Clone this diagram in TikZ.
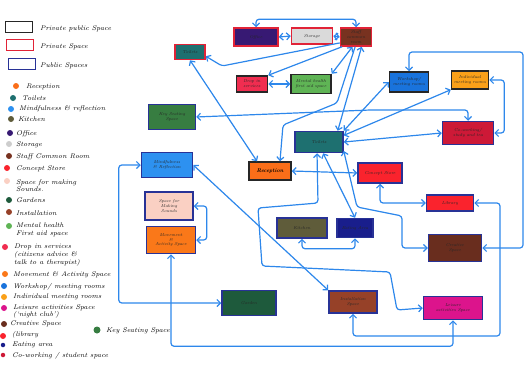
\documentclass[tikz,border=0pt]{standalone}
\usetikzlibrary{arrows.meta}
\definecolor{cArr}{RGB}{45,135,235}
\definecolor{cRedB}{RGB}{225,35,55}
\definecolor{cBlueB}{RGB}{40,50,150}
\definecolor{cTeal}{RGB}{30,112,112}
\definecolor{cPurple}{RGB}{55,25,115}
\definecolor{cGray}{RGB}{218,218,218}
\definecolor{cBrown}{RGB}{120,50,32}
\definecolor{cDrop}{RGB}{240,45,80}
\definecolor{cMental}{RGB}{95,180,85}
\definecolor{cKey}{RGB}{55,125,65}
\definecolor{cWork}{RGB}{25,115,220}
\definecolor{cIndiv}{RGB}{250,160,25}
\definecolor{cCowork}{RGB}{205,25,55}
\definecolor{cMind}{RGB}{45,145,240}
\definecolor{cRecep}{RGB}{250,110,25}
\definecolor{cConcept}{RGB}{250,35,45}
\definecolor{cSounds}{RGB}{250,208,195}
\definecolor{cMove}{RGB}{250,120,25}
\definecolor{cKitchen}{RGB}{95,92,58}
\definecolor{cEat}{RGB}{25,30,140}
\definecolor{cCreative}{RGB}{105,45,30}
\definecolor{cGarden}{RGB}{30,90,60}
\definecolor{cInstall}{RGB}{150,65,40}
\definecolor{cLeisure}{RGB}{220,20,140}
\definecolor{cLight}{RGB}{205,205,205}
\tikzset{
  box/.style={draw, line width=1.5pt, inner sep=0.5pt, align=center,
    font=\fontsize{4.3}{4.9}\selectfont\itshape, text=black!85},
  pv/.style={box, draw=cRedB},
  pp/.style={box, draw=black!85},
  pu/.style={box, draw=cBlueB},
  sz/.style 2 args={minimum width=#1pt, minimum height=#2pt},
  c2/.style={draw=cArr, line width=1.2pt, {Straight Barb[length=3.5pt,width=7pt]}-{Straight Barb[length=3.5pt,width=7pt]}, rounded corners=3pt},
  c1/.style={draw=cArr, line width=1.2pt, -{Straight Barb[length=3.5pt,width=7pt]}, rounded corners=3pt},
  ldot/.style={circle, inner sep=0pt, minimum size=6pt},
  ltext/.style={anchor=west, inner sep=0pt, align=left,
    font=\fontsize{6.8}{7.6}\selectfont\itshape},
  lbox/.style={draw, line width=1.1pt, minimum width=27pt, minimum height=11pt, inner sep=0pt}
}
\begin{document}
\begin{tikzpicture}[x=1pt,y=-1pt]
\useasboundingbox (0,0) rectangle (531,367);

% ---------- legend ----------
\node[lbox, draw=black!85] (lbA) at (19,27) {};
\node[ltext] (ltA) at (40,29) {Private public Space};
\node[lbox, draw=cRedB] (lbB) at (20,45) {};
\node[ltext] (ltB) at (40,47) {Private Space};
\node[lbox, draw=cBlueB] (lbC) at (22,64) {};
\node[ltext] (ltC) at (40,66) {Public Spaces};

\node[ldot, fill=cRecep] (d1) at (16,86) {};
\node[ltext] (e1) at (26,87) {Reception};
\node[ldot, fill=cTeal] (d2) at (13,98) {};
\node[ltext] (e2) at (22,98) {Toilets};
\node[ldot, fill=cMind] (d3) at (11,109) {};
\node[ltext] (e3) at (19,109) {Mindfulness \& reflection};
\node[ldot, fill=cKitchen] (d4) at (11,119) {};
\node[ltext] (e4) at (18,119) {Kitchen};
\node[ldot, fill=cPurple] (d5) at (10,133) {};
\node[ltext] (e5) at (16,134) {Office};
\node[ldot, fill=cLight] (d6) at (9,144) {};
\node[ltext] (e6) at (16,145) {Storage};
\node[ldot, fill=cBrown] (d7) at (9,156) {};
\node[ltext] (e7) at (16,157) {Staff Common Room};
\node[ldot, fill=cConcept] (d8) at (7,168) {};
\node[ltext] (e8) at (16,169) {Concept Store};
\node[ldot, fill=cSounds] (d9) at (7,181) {};
\node[ltext] (e9) at (16,185.5) {Space for making\\Sounds.};
\node[ldot, fill=cGarden] (d10) at (9,200) {};
\node[ltext] (e10) at (16,200) {Gardens};
\node[ldot, fill=cInstall] (d11) at (9,212) {};
\node[ltext] (e11) at (16,213) {Installation};
\node[ldot, fill=cMental] (d12) at (9,226) {};
\node[ltext] (e12) at (16,230) {Mental health\\First aid space};
\node[ldot, fill=cDrop] (d13) at (5,247) {};
\node[ltext] (e13) at (14,255) {Drop in services\\(citizens advice \&\\talk to a therapist)};
\node[ldot, fill=cMove] (d14) at (5,274) {};
\node[ltext] (e14) at (13,275) {Movement \& Activity Space};
\node[ldot, fill=cWork] (d15) at (4,286) {};
\node[ltext] (e15) at (13,287) {Workshop/ meeting rooms};
\node[ldot, fill=cIndiv] (d16) at (4,297) {};
\node[ltext] (e16) at (13,297) {Individual meeting rooms};
\node[ldot, fill=cLeisure] (d17) at (4,308) {};
\node[ltext] (e17) at (13,311.5) {Leisure activities Space\\(`night club')};
\node[ldot, fill=cCreative] (d18) at (4,324) {};
\node[ltext] (e18) at (10,324) {Creative Space};
\node[ldot, fill=cConcept] (d19) at (3,336) {};
\node[ltext] (e19) at (12,335) {(library};
\node[ldot, fill=cEat, minimum size=4.5pt] (d20) at (3,345) {};
\node[ltext] (e20) at (12,345) {Eating area};
\node[ldot, fill=cCowork, minimum size=4.5pt] (d21) at (3,355) {};
\node[ltext] (e21) at (12,356) {Co-working / student space};
\node[ldot, fill=cKey, minimum size=7pt] (d22) at (97,330) {};
\node[ltext] (e22) at (106,331) {Key Seating Space};

% ---------- rooms ----------
\node[pv, fill=cTeal, sz={30}{15}] (toiletsA) at (190,52) {Toilets};
\node[pv, fill=cPurple, sz={44}{18}] (office) at (256,37) {Office};
\node[pv, fill=cGray, sz={41}{16}] (storage) at (312,36) {Storage};
\node[pv, fill=cBrown, sz={31}{18}] (staff) at (356,37) {Staff\\common\\room};
\node[pp, fill=cDrop, sz={31}{16}] (dropin) at (252,84) {Drop in\\services};
\node[pp, fill=cMental, sz={40}{19}] (mental) at (311,84) {Mental health\\first aid space};
\node[pu, fill=cKey, sz={47}{25}] (keyseat) at (172,117) {Key Seating\\Space};
\node[pp, fill=cWork, sz={39}{20}] (workshop) at (409,82) {Workshop/\\meeting rooms};
\node[pp, fill=cIndiv, sz={37}{18}] (indiv) at (470,80) {Individual\\meeting rooms};
\node[pu, fill=cCowork, sz={51}{23}] (cowork) at (468,133) {Co-working/\\study and tea};
\node[pu, fill=cTeal, sz={48}{21}] (toiletsB) at (319,142) {Toilets};
\node[pu, fill=cMind, sz={51}{25}] (mind) at (167,165) {Mindfulness\\\& Reflection};
\node[pp, fill=cRecep, sz={42}{18}, font=\fontsize{5.5}{6}\selectfont\bfseries\itshape, text=black] (reception) at (270,171) {Reception};
\node[pu, fill=cConcept, sz={44}{20}] (concept) at (380,173) {Concept Store};
\node[pu, fill=cConcept, sz={47}{16}] (library) at (450,203) {Library};
\node[pu, fill=cSounds, sz={48}{28}] (sounds) at (169,206) {Space for\\Making\\Sounds};
\node[pu, fill=cMove, sz={49}{27}] (movement) at (171,240) {Movement\\\&\\Activity Space};
\node[pu, fill=cKitchen, sz={50}{20}] (kitchen) at (302,228) {Kitchen};
\node[pu, fill=cEat, sz={36}{19}] (eating) at (355,228) {Eating Area};
\node[pu, fill=cCreative, sz={53}{27}] (creative) at (455,248) {Creative\\Space};
\node[pu, fill=cGarden, sz={54}{25}] (garden) at (249,303) {Garden};
\node[pu, fill=cInstall, sz={48}{22}] (install) at (353,302) {Installation\\Space};
\node[pu, fill=cLeisure, sz={59}{23}] (leisure) at (453,308) {Leisure\\activities Space};

% ---------- connectors ----------
\draw[c2] (office.north) -- ++(0,-8) -| (staff.north);
\draw[c2] (office.east) -- (storage.west);
\draw[c2] (storage.east) -- (staff.west);
\draw[c1] (staff.200) -- (222,66) -- (toiletsA.345);
\draw[c1] (staff.215) -- (dropin.north east);
\draw[c2] (staff.250) -- (mental.north east);
\draw[c2] (dropin.east) -- (mental.west);
\draw[c2] (staff.-60) -- ([xshift=-6pt]toiletsB.north east);
\draw[c1] (staff.-95) -- (337,103) -- (283,125) -- ([xshift=10pt]reception.north);
\draw[c2] (toiletsA.south) -- ([xshift=-13pt]reception.north);
\draw[c2] (keyseat.east) -- (370,110) -| (cowork.north);
\draw[c2] (toiletsB.north east) -- (workshop.west);
\draw[c2] (toiletsB.15) -- (indiv.south west);
\draw[c2] (toiletsB.east) -- (cowork.west);
\draw[c2] (toiletsB.-20) -- (357,207) -- (402,216) |- (creative.west);
\draw[c2] (toiletsB.-70) -- (eating.north);
\draw[c2] (toiletsB.-100) -- (318,203) -- (258,208) -- (262,266) -- (390,272) -- (397,310) -- (leisure.west);
\draw[c2] (reception.east) -- (concept.west);
\draw[c2] (concept.south) |- (library.west);
\draw[c2] (kitchen.south) -- ++(0,10) -| (eating.south);
\draw[c2] (mind.east) -- (install.north west);
\draw[c2] (mind.west) -- ++(-22,0) |- (garden.west);
\draw[c2] (sounds.east) -- ++(13,0) |- (movement.east);
\draw[c2] (movement.south) -- ++(0,92) -| (leisure.south);
\draw[c2] (workshop.north) |- (523,52) |- (creative.east);
\draw[c2] (indiv.east) -- ++(15,0) |- (cowork.east);
\draw[c2] (library.east) -| (500,336) -| (install.south);
\end{tikzpicture}
\end{document}
